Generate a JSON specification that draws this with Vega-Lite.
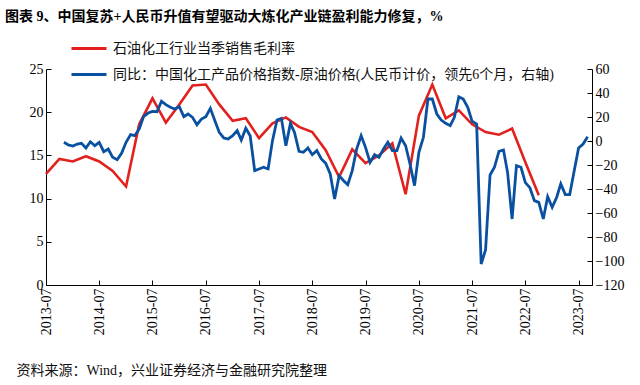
{
  "$schema": "https://vega.github.io/schema/vega-lite/v6.json",
  "width": 546,
  "height": 216,
  "autosize": {"type": "none"},
  "padding": {"left": 46, "top": 69, "right": 48, "bottom": 100},
  "background": "white",
  "config": {"view": {"stroke": null}, "font": "Liberation Serif, Noto Sans CJK SC"},
  "title": {
    "text": "图表 9、中国复苏+人民币升值有望驱动大炼化产业链盈利能力修复，%",
    "anchor": "start", "frame": "group", "dx": -41, "offset": 0, "dy": 1,
    "fontSize": 14, "fontWeight": "bold", "font": "Liberation Serif, Noto Sans CJK SC", "color": "#000", "baseline": "middle"
  },
  "datasets": {
    "margin": [
      {"date": "2013-07", "value": 12.85, "s": "a"}, {"date": "2013-10", "value": 14.6, "s": "a"},
      {"date": "2014-01", "value": 14.3, "s": "a"}, {"date": "2014-04", "value": 14.9, "s": "a"},
      {"date": "2014-07", "value": 14.3, "s": "a"}, {"date": "2014-10", "value": 13.2, "s": "a"},
      {"date": "2015-01", "value": 11.4, "s": "a"}, {"date": "2015-04", "value": 18.6, "s": "a"},
      {"date": "2015-07", "value": 21.6, "s": "a"}, {"date": "2015-10", "value": 18.8, "s": "a"},
      {"date": "2016-01", "value": 20.9, "s": "a"}, {"date": "2016-04", "value": 23.1, "s": "a"},
      {"date": "2016-07", "value": 23.2, "s": "a"}, {"date": "2016-10", "value": 20.9, "s": "a"},
      {"date": "2017-01", "value": 19.0, "s": "a"}, {"date": "2017-04", "value": 19.3, "s": "a"},
      {"date": "2017-07", "value": 17.0, "s": "a"}, {"date": "2017-10", "value": 18.7, "s": "a"},
      {"date": "2018-01", "value": 19.4, "s": "a"}, {"date": "2018-04", "value": 18.3, "s": "a"},
      {"date": "2018-07", "value": 17.7, "s": "a"}, {"date": "2018-10", "value": 15.6, "s": "a"},
      {"date": "2019-01", "value": 12.5, "s": "a"}, {"date": "2019-04", "value": 15.7, "s": "a"},
      {"date": "2019-07", "value": 14.1, "s": "a"}, {"date": "2019-10", "value": 15.0, "s": "a"},
      {"date": "2020-01", "value": 16.4, "s": "a"}, {"date": "2020-04", "value": 10.5, "s": "a"},
      {"date": "2020-07", "value": 19.6, "s": "a"}, {"date": "2020-10", "value": 23.2, "s": "a"},
      {"date": "2021-01", "value": 19.3, "s": "a"}, {"date": "2021-04", "value": 20.2, "s": "a"},
      {"date": "2021-07", "value": 18.6, "s": "a"}, {"date": "2021-10", "value": 17.7, "s": "a"},
      {"date": "2022-01", "value": 17.4, "s": "a"}, {"date": "2022-04", "value": 18.1, "s": "a"},
      {"date": "2022-07", "value": 14.2, "s": "a"}, {"date": "2022-10", "value": 10.4, "s": "a"}
    ],
    "yoy": [
      {"date": "2013-11", "value": -1.1, "s": "b"}, {"date": "2013-12", "value": -3.3, "s": "b"},
      {"date": "2014-01", "value": -4.2, "s": "b"}, {"date": "2014-02", "value": -2.5, "s": "b"},
      {"date": "2014-03", "value": -1.9, "s": "b"}, {"date": "2014-04", "value": -5.8, "s": "b"},
      {"date": "2014-05", "value": -0.6, "s": "b"}, {"date": "2014-06", "value": -3.9, "s": "b"},
      {"date": "2014-07", "value": -1.1, "s": "b"}, {"date": "2014-08", "value": -8.9, "s": "b"},
      {"date": "2014-09", "value": -6.7, "s": "b"}, {"date": "2014-10", "value": -13.6, "s": "b"},
      {"date": "2014-11", "value": -15.6, "s": "b"}, {"date": "2014-12", "value": -10.3, "s": "b"},
      {"date": "2015-01", "value": -1.1, "s": "b"}, {"date": "2015-02", "value": 5.3, "s": "b"},
      {"date": "2015-03", "value": 4.4, "s": "b"}, {"date": "2015-04", "value": 10, "s": "b"},
      {"date": "2015-05", "value": 20.3, "s": "b"}, {"date": "2015-06", "value": 23.3, "s": "b"},
      {"date": "2015-07", "value": 24.7, "s": "b"}, {"date": "2015-08", "value": 24.4, "s": "b"},
      {"date": "2015-09", "value": 33.1, "s": "b"}, {"date": "2015-10", "value": 30.3, "s": "b"},
      {"date": "2015-11", "value": 28.1, "s": "b"}, {"date": "2015-12", "value": 26.7, "s": "b"},
      {"date": "2016-01", "value": 28.6, "s": "b"}, {"date": "2016-02", "value": 20.3, "s": "b"},
      {"date": "2016-03", "value": 22.5, "s": "b"}, {"date": "2016-04", "value": 19.7, "s": "b"},
      {"date": "2016-05", "value": 13.6, "s": "b"}, {"date": "2016-06", "value": 18.3, "s": "b"},
      {"date": "2016-07", "value": 20.3, "s": "b"}, {"date": "2016-08", "value": 27.2, "s": "b"},
      {"date": "2016-09", "value": 16.9, "s": "b"}, {"date": "2016-10", "value": 7.2, "s": "b"},
      {"date": "2016-11", "value": 2.5, "s": "b"}, {"date": "2016-12", "value": 1.7, "s": "b"},
      {"date": "2017-01", "value": 4.4, "s": "b"}, {"date": "2017-02", "value": 8.6, "s": "b"},
      {"date": "2017-03", "value": 0.8, "s": "b"}, {"date": "2017-04", "value": 10.6, "s": "b"},
      {"date": "2017-05", "value": 4.4, "s": "b"}, {"date": "2017-06", "value": -24.7, "s": "b"},
      {"date": "2017-07", "value": -23.3, "s": "b"}, {"date": "2017-08", "value": -21.9, "s": "b"},
      {"date": "2017-09", "value": -23.3, "s": "b"}, {"date": "2017-10", "value": 0.3, "s": "b"},
      {"date": "2017-11", "value": 17.5, "s": "b"}, {"date": "2017-12", "value": 18.9, "s": "b"},
      {"date": "2018-01", "value": -3.9, "s": "b"}, {"date": "2018-02", "value": 14.7, "s": "b"},
      {"date": "2018-03", "value": 7.2, "s": "b"}, {"date": "2018-04", "value": -8.6, "s": "b"},
      {"date": "2018-05", "value": -9.4, "s": "b"}, {"date": "2018-06", "value": -5.8, "s": "b"},
      {"date": "2018-07", "value": -11.4, "s": "b"}, {"date": "2018-08", "value": -8.0, "s": "b"},
      {"date": "2018-09", "value": -15.0, "s": "b"}, {"date": "2018-10", "value": -18.6, "s": "b"},
      {"date": "2018-11", "value": -27.5, "s": "b"}, {"date": "2018-12", "value": -48.3, "s": "b"},
      {"date": "2019-01", "value": -28.9, "s": "b"}, {"date": "2019-02", "value": -33.1, "s": "b"},
      {"date": "2019-03", "value": -36.4, "s": "b"}, {"date": "2019-04", "value": -24.7, "s": "b"},
      {"date": "2019-05", "value": -6.7, "s": "b"}, {"date": "2019-06", "value": 4.4, "s": "b"},
      {"date": "2019-07", "value": -5.3, "s": "b"}, {"date": "2019-08", "value": -17.8, "s": "b"},
      {"date": "2019-09", "value": -11.4, "s": "b"}, {"date": "2019-10", "value": -13.6, "s": "b"},
      {"date": "2019-11", "value": -6.7, "s": "b"}, {"date": "2019-12", "value": -1.1, "s": "b"},
      {"date": "2020-01", "value": -8.1, "s": "b"}, {"date": "2020-02", "value": -8.1, "s": "b"},
      {"date": "2020-03", "value": 2.5, "s": "b"}, {"date": "2020-04", "value": -3.9, "s": "b"},
      {"date": "2020-05", "value": -19.2, "s": "b"}, {"date": "2020-06", "value": -37.2, "s": "b"},
      {"date": "2020-07", "value": -9.4, "s": "b"}, {"date": "2020-08", "value": 3.1, "s": "b"},
      {"date": "2020-09", "value": 35, "s": "b"}, {"date": "2020-10", "value": 35, "s": "b"},
      {"date": "2020-11", "value": 22.5, "s": "b"}, {"date": "2020-12", "value": 17.5, "s": "b"},
      {"date": "2021-01", "value": 14.7, "s": "b"}, {"date": "2021-02", "value": 12.8, "s": "b"},
      {"date": "2021-03", "value": 19.7, "s": "b"}, {"date": "2021-04", "value": 36.9, "s": "b"},
      {"date": "2021-05", "value": 35, "s": "b"}, {"date": "2021-06", "value": 28.1, "s": "b"},
      {"date": "2021-07", "value": 16.4, "s": "b"}, {"date": "2021-08", "value": 14.2, "s": "b"},
      {"date": "2021-09", "value": -102.5, "s": "b"}, {"date": "2021-10", "value": -90.8, "s": "b"},
      {"date": "2021-11", "value": -28.3, "s": "b"}, {"date": "2021-12", "value": -21.9, "s": "b"},
      {"date": "2022-01", "value": -8.6, "s": "b"}, {"date": "2022-02", "value": -7.5, "s": "b"},
      {"date": "2022-03", "value": -26.1, "s": "b"}, {"date": "2022-04", "value": -65, "s": "b"},
      {"date": "2022-05", "value": -20.6, "s": "b"}, {"date": "2022-06", "value": -21.9, "s": "b"},
      {"date": "2022-07", "value": -34.7, "s": "b"}, {"date": "2022-08", "value": -38.9, "s": "b"},
      {"date": "2022-09", "value": -49.7, "s": "b"}, {"date": "2022-10", "value": -51.1, "s": "b"},
      {"date": "2022-11", "value": -65, "s": "b"}, {"date": "2022-12", "value": -46.4, "s": "b"},
      {"date": "2023-01", "value": -55.3, "s": "b"}, {"date": "2023-02", "value": -46.9, "s": "b"},
      {"date": "2023-03", "value": -35.8, "s": "b"}, {"date": "2023-04", "value": -44.7, "s": "b"},
      {"date": "2023-05", "value": -44.7, "s": "b"}, {"date": "2023-06", "value": -24.7, "s": "b"},
      {"date": "2023-07", "value": -5.8, "s": "b"}, {"date": "2023-08", "value": -2.5, "s": "b"},
      {"date": "2023-09", "value": 3.6, "s": "b"}
    ]
  },
  "encoding": {
    "x": {
      "field": "date", "type": "temporal",
      "scale": {"type": "utc", "domain": [{"year": 2013, "month": 7, "date": 1, "utc": true}, {"year": 2023, "month": 10, "date": 1, "utc": true}]},
      "axis": {
        "values": [
          {"year": 2013, "month": 7, "date": 1, "utc": true}, {"year": 2014, "month": 7, "date": 1, "utc": true},
          {"year": 2015, "month": 7, "date": 1, "utc": true}, {"year": 2016, "month": 7, "date": 1, "utc": true},
          {"year": 2017, "month": 7, "date": 1, "utc": true}, {"year": 2018, "month": 7, "date": 1, "utc": true},
          {"year": 2019, "month": 7, "date": 1, "utc": true}, {"year": 2020, "month": 7, "date": 1, "utc": true},
          {"year": 2021, "month": 7, "date": 1, "utc": true}, {"year": 2022, "month": 7, "date": 1, "utc": true},
          {"year": 2023, "month": 7, "date": 1, "utc": true}
        ],
        "format": "%Y-%m", "labelAngle": 270, "labelAlign": "right", "labelBaseline": "middle",
        "labelFont": "Liberation Serif", "labelFontSize": 14, "labelColor": "#000", "labelPadding": 8,
        "tickSize": -5, "tickColor": "#000", "domainColor": "#000", "grid": false, "labelOverlap": false, "labelFlush": false,
        "title": "资料来源：Wind，兴业证券经济与金融研究院整理",
        "titleX": -30, "titleY": 85, "titleAlign": "left", "titleBaseline": "middle", "titleAnchor": "start",
        "titleFont": "Liberation Serif, Noto Sans CJK SC", "titleFontSize": 14, "titleFontWeight": "normal", "titleColor": "#111"
      }
    },
    "color": {
      "field": "s", "type": "nominal",
      "scale": {"domain": ["a", "b"], "range": ["#E2211F", "#0A50A0"]},
      "legend": {
        "orient": "none", "legendX": 24, "legendY": -39.5, "direction": "vertical", "title": null,
        "symbolType": "stroke", "symbolSize": 1225, "symbolStrokeWidth": 3, "labelOffset": 5, "rowPadding": -10,
        "labelFont": "Liberation Serif, Noto Sans CJK SC", "labelFontSize": 14, "labelColor": "#111", "labelLimit": 600,
        "labelExpr": "datum.label == 'a' ? '石油化工行业当季销售毛利率' : '同比：中国化工产品价格指数-原油价格(人民币计价，领先6个月，右轴)'"
      }
    }
  },
  "layer": [
    {
      "data": {"name": "margin"},
      "mark": {"type": "line", "strokeWidth": 2.6},
      "encoding": {
        "y": {
          "field": "value", "type": "quantitative",
          "scale": {"domain": [0, 25], "nice": false, "zero": false},
          "axis": {"values": [0, 5, 10, 15, 20, 25], "title": null, "grid": false, "tickSize": -5, "labelPadding": 8,
            "labelFont": "Liberation Serif", "labelFontSize": 14, "labelColor": "#000", "tickColor": "#000", "domainColor": "#000"}
        }
      }
    },
    {
      "data": {"name": "yoy"},
      "mark": {"type": "line", "strokeWidth": 2.8},
      "encoding": {
        "y": {
          "field": "value", "type": "quantitative",
          "scale": {"domain": [-120, 60], "nice": false, "zero": false},
          "axis": {"orient": "right", "values": [-120, -100, -80, -60, -40, -20, 0, 20, 40, 60], "title": null, "grid": false, "tickSize": -5, "labelPadding": 8,
            "labelFont": "Liberation Serif", "labelFontSize": 14, "labelColor": "#000", "tickColor": "#000", "domainColor": "#000"}
        }
      }
    }
  ],
  "resolve": {"scale": {"y": "independent"}}
}
